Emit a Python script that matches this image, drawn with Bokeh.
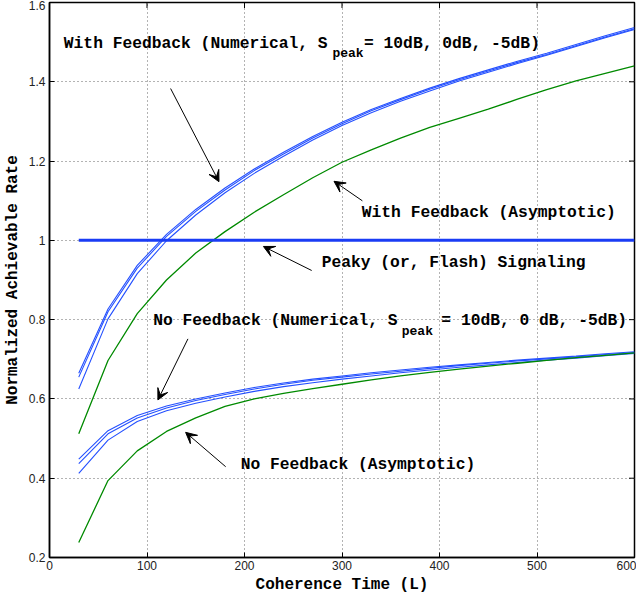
from bokeh.plotting import figure
from bokeh.models import FixedTicker, Range1d, Arrow, VeeHead
from bokeh.core.properties import value
from bokeh.embed import file_html
from bokeh.resources import INLINE

# ---------------- data ----------------
coherence_L = [30, 60, 90, 120, 150, 180, 210, 240, 270, 300,
               330, 360, 390, 420, 450, 480, 510, 540, 570, 600]

fb_num_10dB = [0.665, 0.827, 0.937, 1.015, 1.078, 1.132, 1.180, 1.222, 1.262, 1.298,
               1.330, 1.358, 1.384, 1.408, 1.430, 1.452, 1.472, 1.494, 1.516, 1.537]
fb_num_0dB = [0.655, 0.820, 0.930, 1.010, 1.073, 1.127, 1.176, 1.218, 1.258, 1.294,
              1.327, 1.355, 1.381, 1.405, 1.427, 1.449, 1.469, 1.491, 1.513, 1.534]
fb_num_m5dB = [0.625, 0.802, 0.916, 0.999, 1.064, 1.120, 1.169, 1.212, 1.253, 1.290,
               1.322, 1.351, 1.377, 1.402, 1.424, 1.446, 1.467, 1.489, 1.511, 1.532]
fb_asym = [0.512, 0.697, 0.815, 0.900, 0.968, 1.022, 1.071, 1.115, 1.158, 1.197,
           1.228, 1.258, 1.285, 1.308, 1.331, 1.356, 1.380, 1.402, 1.421, 1.440]

nofb_num_10dB = [0.448, 0.520, 0.558, 0.582, 0.600, 0.615, 0.629, 0.640, 0.650, 0.658,
                 0.666, 0.673, 0.680, 0.686, 0.692, 0.698, 0.703, 0.708, 0.714, 0.719]
nofb_num_0dB = [0.437, 0.512, 0.552, 0.577, 0.596, 0.611, 0.625, 0.637, 0.647, 0.655,
                0.663, 0.670, 0.677, 0.684, 0.690, 0.696, 0.701, 0.706, 0.712, 0.717]
nofb_num_m5dB = [0.412, 0.496, 0.543, 0.570, 0.589, 0.605, 0.619, 0.631, 0.641, 0.650,
                 0.658, 0.666, 0.673, 0.680, 0.686, 0.692, 0.698, 0.703, 0.709, 0.715]
nofb_asym = [0.238, 0.394, 0.469, 0.518, 0.552, 0.581, 0.600, 0.614, 0.626, 0.637,
             0.648, 0.658, 0.667, 0.675, 0.683, 0.690, 0.697, 0.704, 0.710, 0.716]

peaky_L = [30, 600]
peaky_rate = [1.0, 1.0]

x_ticks = [0, 100, 200, 300, 400, 500, 600]
y_ticks = [0.2, 0.4, 0.6, 0.8, 1.0, 1.2, 1.4, 1.6]
y_tick_labels = {0.2: "0.2", 0.4: "0.4", 0.6: "0.6", 0.8: "0.8", 1.0: "1",
                 1.2: "1.2", 1.4: "1.4", 1.6: "1.6"}

# ---------------- styles ----------------
BLUE = "#2450ff"
BLUE_THICK = "#1a3cf5"
GREEN = "#008a00"
MONO = value("Liberation Mono")
X0, X1, Y0, Y1 = 0, 600, 0.2, 1.6

p = figure(width=636, height=596, output_backend="svg", toolbar_location=None,
           x_range=Range1d(X0, X1), y_range=Range1d(Y0, Y1),
           min_border_left=38, min_border_right=2, min_border_top=2, min_border_bottom=30)
p.background_fill_color = "white"
p.border_fill_color = "white"
p.outline_line_color = "black"
p.outline_line_width = 1.5

for ax in p.xaxis + p.yaxis:
    ax.major_tick_in = 5
    ax.major_tick_out = 0
    ax.minor_tick_in = 0
    ax.minor_tick_out = 0
    ax.axis_line_color = "black"
    ax.axis_line_width = 1.5
    ax.major_label_text_font = "Liberation Sans"
    ax.major_label_text_font_size = "12px"
    ax.major_label_text_color = "#222222"
    ax.axis_label_text_font = "Liberation Mono"
    ax.axis_label_text_font_style = "bold"
    ax.axis_label_text_font_size = "16px"
    ax.axis_label_text_color = "black"

p.xaxis.ticker = FixedTicker(ticks=x_ticks)
p.yaxis.ticker = FixedTicker(ticks=y_ticks)
p.yaxis.major_label_overrides = y_tick_labels
p.xaxis.axis_label = "Coherence Time (L)"
p.yaxis.axis_label = "Normalized Achievable Rate"
p.xaxis.major_label_standoff = 3
p.yaxis.major_label_standoff = 4
p.xaxis.axis_label_standoff = 3
p.yaxis.axis_label_standoff = 4

p.xgrid.ticker = FixedTicker(ticks=x_ticks)
p.ygrid.ticker = FixedTicker(ticks=y_ticks)
p.grid.grid_line_color = "#666666"
p.grid.grid_line_dash = "1 3"
p.grid.grid_line_width = 1

# box ticks on the right and top edges (MATLAB style)
tick_dx = (X1 - X0) * 5.5 / 585
tick_dy = (Y1 - Y0) * 5.5 / 554
p.segment(x0=[X1] * len(y_ticks), y0=y_ticks, x1=[X1 - tick_dx] * len(y_ticks), y1=y_ticks,
          line_color="black", line_width=1)
p.segment(x0=x_ticks, y0=[Y1] * len(x_ticks), x1=x_ticks, y1=[Y1 - tick_dy] * len(x_ticks),
          line_color="black", line_width=1)

# ---------------- curves ----------------
for ys in (fb_num_10dB, fb_num_0dB, fb_num_m5dB,
           nofb_num_10dB, nofb_num_0dB, nofb_num_m5dB):
    p.line(coherence_L, ys, line_color=BLUE, line_width=1.1)
p.line(coherence_L, fb_asym, line_color=GREEN, line_width=1.3)
p.line(coherence_L, nofb_asym, line_color=GREEN, line_width=1.3)
p.line(peaky_L, peaky_rate, line_color=BLUE_THICK, line_width=3)

# ---------------- annotations ----------------
def txt(x, y, s, size="16.3px"):
    p.text(x=[x], y=[y], text=[s], text_font=MONO, text_font_style="bold",
           text_font_size=size, text_align="left", text_baseline="middle",
           text_color="black")

txt(14.7, 1.496, "With Feedback (Numerical, S")
txt(290.2, 1.471, "peak", "13px")
txt(322.6, 1.496, " = 10dB, 0dB, -5dB)")
txt(320.3, 1.0697, "With Feedback (Asymptotic)")
txt(279.2, 0.945, "Peaky (or, Flash) Signaling")
txt(106.4, 0.7977, "No Feedback (Numerical, S")
txt(361.3, 0.771, "peak", "13px")
txt(401.9, 0.7977, "= 10dB, 0 dB, -5dB)")
txt(196.1, 0.434, "No Feedback (Asymptotic)")

arrows = [
    (124.2, 1.383, 173.8, 1.148),
    (320.9, 1.0997, 291.8, 1.149),
    (268.9, 0.924, 219.4, 0.9846),
    (142.0, 0.7515, 111.2, 0.5975),
    (180.7, 0.429, 139.6, 0.5157),
]
for xs, ys, xe, ye in arrows:
    p.add_layout(Arrow(end=VeeHead(size=11, fill_color="black", line_color="black",
                                   line_width=1),
                       x_start=xs, y_start=ys, x_end=xe, y_end=ye,
                       line_color="black", line_width=1))

open("out.html", "w").write(file_html(p, INLINE))
